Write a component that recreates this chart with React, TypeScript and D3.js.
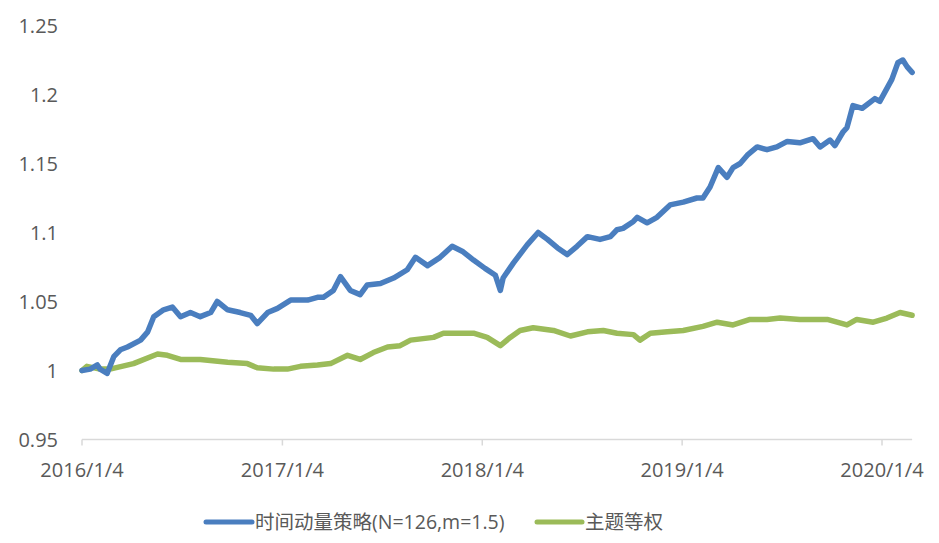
import React from "react";
import * as d3 from "d3";

const blueName = "时间动量策略(N=126,m=1.5)";
const greenName = "主题等权";

const blueDates = [
  "2016-01-04","2016-01-19","2016-02-01","2016-02-06","2016-02-19","2016-03-02","2016-03-14","2016-03-27",
  "2016-04-20","2016-05-03","2016-05-14","2016-06-01","2016-06-17","2016-07-02","2016-07-20","2016-08-07",
  "2016-08-26","2016-09-07","2016-09-26","2016-10-19","2016-11-07","2016-11-19","2016-12-08","2016-12-26",
  "2017-01-19","2017-02-19","2017-03-09","2017-03-20","2017-04-07","2017-04-20","2017-05-08","2017-05-26",
  "2017-06-08","2017-07-02","2017-07-26","2017-08-20","2017-09-04","2017-09-26","2017-10-19","2017-11-10",
  "2017-11-30","2017-12-19","2018-01-09","2018-01-28","2018-02-06","2018-02-11","2018-03-02","2018-03-27",
  "2018-04-16","2018-05-03","2018-05-21","2018-06-08","2018-06-26","2018-07-15","2018-08-07","2018-08-26",
  "2018-09-07","2018-09-18","2018-10-07","2018-10-14","2018-11-01","2018-11-19","2018-12-13","2019-01-06",
  "2019-01-31","2019-02-11","2019-02-24","2019-03-11","2019-03-27","2019-04-07","2019-04-20","2019-05-03",
  "2019-05-21","2019-06-08","2019-06-26","2019-07-15","2019-08-07","2019-08-31","2019-09-13","2019-10-01",
  "2019-10-10","2019-10-25","2019-11-01","2019-11-12","2019-11-29","2019-12-22","2019-12-31","2020-01-22",
  "2020-02-02","2020-02-11","2020-02-19","2020-02-28",
];
const blueValues = [
  1.000,1.001,1.004,1.001,0.998,1.010,1.015,1.017,
  1.022,1.028,1.039,1.044,1.046,1.039,1.042,1.039,
  1.042,1.050,1.044,1.042,1.040,1.034,1.042,1.045,
  1.051,1.051,1.053,1.053,1.058,1.068,1.058,1.055,
  1.062,1.063,1.067,1.073,1.082,1.076,1.082,1.090,
  1.086,1.080,1.074,1.069,1.058,1.067,1.078,1.091,
  1.100,1.095,1.089,1.084,1.090,1.097,1.095,1.097,
  1.102,1.103,1.108,1.111,1.107,1.111,1.120,1.122,
  1.125,1.125,1.133,1.147,1.140,1.147,1.150,1.156,
  1.162,1.160,1.162,1.166,1.165,1.168,1.162,1.167,
  1.163,1.173,1.176,1.192,1.190,1.197,1.195,1.211,
  1.223,1.225,1.220,1.216,
];

const greenDates = [
  "2016-01-04","2016-01-13","2016-02-06","2016-02-24","2016-04-07","2016-05-21","2016-06-08","2016-07-02",
  "2016-08-07","2016-09-26","2016-11-01","2016-11-19","2016-12-19","2017-01-13","2017-02-06","2017-03-09",
  "2017-04-02","2017-05-03","2017-05-26","2017-06-19","2017-07-15","2017-08-07","2017-08-26","2017-10-07",
  "2017-10-25","2017-11-19","2017-12-19","2018-01-13","2018-02-06","2018-02-24","2018-03-14","2018-04-07",
  "2018-05-14","2018-06-14","2018-07-15","2018-08-13","2018-09-07","2018-10-07","2018-10-19","2018-11-07",
  "2018-12-08","2019-01-06","2019-02-11","2019-03-09","2019-04-07","2019-05-08","2019-06-08","2019-07-02",
  "2019-08-07","2019-09-26","2019-11-01","2019-11-19","2019-12-19","2020-01-13","2020-02-06","2020-02-28",
];
const greenValues = [
  1.000,1.003,1.001,1.001,1.005,1.012,1.011,1.008,
  1.008,1.006,1.005,1.002,1.001,1.001,1.003,1.004,
  1.005,1.011,1.008,1.013,1.017,1.018,1.022,1.024,
  1.027,1.027,1.027,1.024,1.018,1.024,1.029,1.031,
  1.029,1.025,1.028,1.029,1.027,1.026,1.022,1.027,
  1.028,1.029,1.032,1.035,1.033,1.037,1.037,1.038,
  1.037,1.037,1.033,1.037,1.035,1.038,1.042,1.040,
];

const yTicks = [0.95, 1, 1.05, 1.1, 1.15, 1.2, 1.25];
const xTickDates = ["2016-01-04", "2017-01-04", "2018-01-04", "2019-01-04", "2020-01-04"];
const xTickLabels = ["2016/1/4", "2017/1/4", "2018/1/4", "2019/1/4", "2020/1/4"];
const xAxisEnd = "2020-02-28";

const parse = d3.timeParse("%Y-%m-%d");

export default function App() {
  const W = 939, H = 543;
  const x = d3.scaleTime()
    .domain([parse("2016-01-04")!, parse("2020-01-04")!])
    .range([82, 882]);
  const y = d3.scaleLinear().domain([0.95, 1.25]).range([439.5, 25.5]);

  const line = d3.line<[Date, number]>()
    .x((d) => x(d[0]))
    .y((d) => y(d[1]));

  const blue: [Date, number][] = blueDates.map((d, i) => [parse(d)!, blueValues[i]]);
  const green: [Date, number][] = greenDates.map((d, i) => [parse(d)!, greenValues[i]]);

  const font = "'Open Sans', 'Noto Sans CJK SC', sans-serif";
  const textColor = "#595959";
  const blueColor = "#4a7ebf";
  const greenColor = "#9bbb59";
  const axisY = y(0.95);
  const xEnd = x(parse(xAxisEnd)!);

  return (
    <svg
      width={W}
      height={H}
      style={{ position: "absolute", left: 0, top: 0, background: "#fff" }}
      fontFamily={font}
    >
      <rect x={0} y={0} width={W} height={H} fill="#fff" />
      {yTicks.map((t) => (
        <text
          key={t}
          x={58}
          y={y(t)}
          dy="0.35em"
          textAnchor="end"
          fontSize={20}
          fill={textColor}
        >
          {d3.format("")(t)}
        </text>
      ))}
      <line x1={x(parse("2016-01-04")!)} x2={xEnd} y1={axisY} y2={axisY} stroke="#d9d9d9" strokeWidth={1.5} />
      {xTickDates.map((d, i) => {
        const px = x(parse(d)!);
        return (
          <g key={d}>
            <line x1={px} x2={px} y1={axisY} y2={axisY + 6} stroke="#d9d9d9" strokeWidth={1.5} />
            <text x={px} y={470} dy="0.35em" textAnchor="middle" fontSize={20} fill={textColor}>
              {xTickLabels[i]}
            </text>
          </g>
        );
      })}
      <path
        d={line(green) || ""}
        fill="none"
        stroke={greenColor}
        strokeWidth={5.5}
        strokeLinejoin="round"
        strokeLinecap="round"
      />
      <path
        d={line(blue) || ""}
        fill="none"
        stroke={blueColor}
        strokeWidth={5.5}
        strokeLinejoin="round"
        strokeLinecap="round"
      />
      <g>
        <line x1={206} x2={252} y1={522} y2={522} stroke={blueColor} strokeWidth={5} strokeLinecap="round" />
        <text x={255} y={522} dy="0.35em" fontSize={19.5} fill={textColor}>{blueName}</text>
        <line x1={537} x2={582} y1={522} y2={522} stroke={greenColor} strokeWidth={5} strokeLinecap="round" />
        <text x={585} y={522} dy="0.35em" fontSize={19.5} fill={textColor}>{greenName}</text>
      </g>
    </svg>
  );
}
